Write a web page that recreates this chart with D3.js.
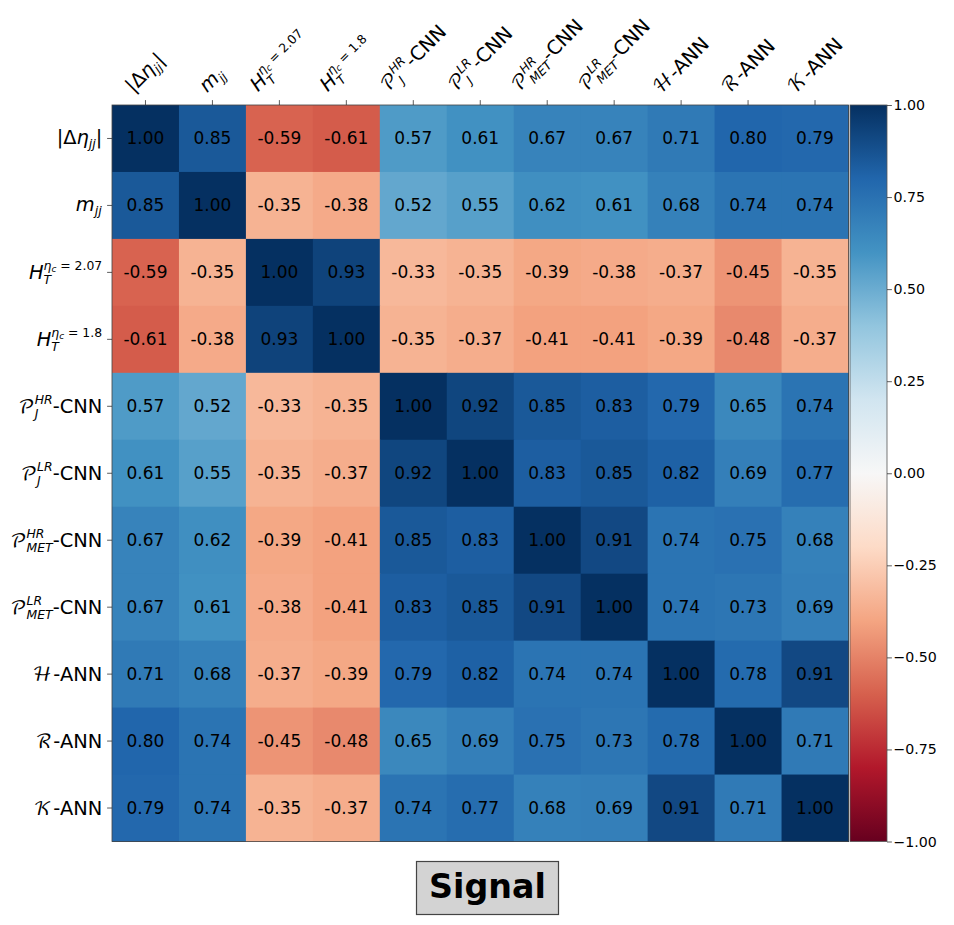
<!DOCTYPE html>
<html><head><meta charset="utf-8">
<script src="https://cdn.jsdelivr.net/npm/d3@7"></script>
<style>body{margin:0;background:#fff}svg{display:block}</style>
</head><body>
<script>
// ---- data ----
// label parts: [text, level(0 base,1 sup,-1 sub,2 sub-of-sup), italic, flag('st' = stack on script start), font('c' calligraphic)]
const labels = [
  [["|Δ",0,0],["η",0,1],["jj",-1,1],["|",0,0]],
  [["m",0,1],["jj",-1,1]],
  [["H",0,1],["T",-1,1],["η",1,1,"st"],["c",2,1],[" = 2.07",1,0]],
  [["H",0,1],["T",-1,1],["η",1,1,"st"],["c",2,1],[" = 1.8",1,0]],
  [["𝒫",0,0,null,"c"],["HR",1,1],["J",-1,1,"st"],["-CNN",0,0]],
  [["𝒫",0,0,null,"c"],["LR",1,1],["J",-1,1,"st"],["-CNN",0,0]],
  [["𝒫",0,0,null,"c"],["HR",1,1],["MET",-1,1,"st"],["-CNN",0,0]],
  [["𝒫",0,0,null,"c"],["LR",1,1],["MET",-1,1,"st"],["-CNN",0,0]],
  [["ℋ",0,0,null,"c"],["-ANN",0,0]],
  [["ℛ",0,0,null,"c"],["-ANN",0,0]],
  [["𝒦",0,0,null,"c"],["-ANN",0,0]]
];
const matrix = [
  [1.00, 0.85,-0.59,-0.61, 0.57, 0.61, 0.67, 0.67, 0.71, 0.80, 0.79],
  [0.85, 1.00,-0.35,-0.38, 0.52, 0.55, 0.62, 0.61, 0.68, 0.74, 0.74],
  [-0.59,-0.35,1.00, 0.93,-0.33,-0.35,-0.39,-0.38,-0.37,-0.45,-0.35],
  [-0.61,-0.38,0.93, 1.00,-0.35,-0.37,-0.41,-0.41,-0.39,-0.48,-0.37],
  [0.57, 0.52,-0.33,-0.35, 1.00, 0.92, 0.85, 0.83, 0.79, 0.65, 0.74],
  [0.61, 0.55,-0.35,-0.37, 0.92, 1.00, 0.83, 0.85, 0.82, 0.69, 0.77],
  [0.67, 0.62,-0.39,-0.41, 0.85, 0.83, 1.00, 0.91, 0.74, 0.75, 0.68],
  [0.67, 0.61,-0.38,-0.41, 0.83, 0.85, 0.91, 1.00, 0.74, 0.73, 0.69],
  [0.71, 0.68,-0.37,-0.39, 0.79, 0.82, 0.74, 0.74, 1.00, 0.78, 0.91],
  [0.80, 0.74,-0.45,-0.48, 0.65, 0.69, 0.75, 0.73, 0.78, 1.00, 0.71],
  [0.79, 0.74,-0.35,-0.37, 0.74, 0.77, 0.68, 0.69, 0.91, 0.71, 1.00]
];
const cbTicks = [1.00, 0.75, 0.50, 0.25, 0.00, -0.25, -0.50, -0.75, -1.00];
const rdbu = ["#67001f","#b2182b","#d6604d","#f4a582","#fddbc7","#f7f7f7","#d1e5f0","#92c5de","#4393c3","#2166ac","#053061"];
const titleText = "Signal";

// ---- layout ----
const W = 954, H = 925;
const leftX = 112, topY = 105, size = 736.5;
const cbX = 850, cbW = 37;
const FS = 19.4, AFS = 17, CFS = 14.2, SCR = 0.64;
const FONT = "'DejaVu Sans', sans-serif";
const CAL = "'DejaVu Math TeX Gyre','STIX Two Math','Noto Sans Math','DejaVu Serif',serif";

const svg = d3.select("body").append("svg").attr("width", W).attr("height", H);
const n = labels.length;
const idx = d3.range(n);
const xS = d3.scaleBand().domain(idx).range([leftX, leftX + size]);
const yS = d3.scaleBand().domain(idx).range([topY, topY + size]);
const color = d3.scaleLinear().domain(d3.range(11).map(i => -1 + i * 0.2)).range(rdbu).interpolate(d3.interpolateRgb).clamp(true);
const annot = v => v.toFixed(2);

// cells
const cells = svg.append("g");
matrix.forEach((row, r) => row.forEach((v, c) => {
  cells.append("rect").attr("x", xS(c)).attr("y", yS(r))
    .attr("width", xS.bandwidth() + 0.5).attr("height", yS.bandwidth() + 0.5)
    .attr("fill", color(v));
}));
matrix.forEach((row, r) => row.forEach((v, c) => {
  cells.append("text").attr("x", xS(c) + xS.bandwidth() / 2).attr("y", yS(r) + yS.bandwidth() / 2)
    .attr("text-anchor", "middle").attr("dominant-baseline", "central")
    .attr("font-family", FONT).attr("font-size", AFS).attr("fill", "#000")
    .text(annot(v));
}));
svg.append("rect").attr("x", leftX).attr("y", topY).attr("width", size).attr("height", size)
  .attr("fill", "none").attr("stroke", "#444").attr("stroke-width", 0.8);

// math label renderer
function drawMath(g, parts, fs) {
  let px = 0, scriptStart = 0, maxX = 0, prevLv = 0;
  const hasBoth = parts.some(p => p[1] === 1) && parts.some(p => p[1] === -1);
  parts.forEach((p, k) => {
    const [t, lv, it, flag, font] = p;
    if (lv !== 0 && prevLv === 0) { scriptStart = px; maxX = px; }
    if (lv === 0 && prevLv !== 0) { px = Math.max(px, maxX); }
    if (flag === "st") { maxX = Math.max(maxX, px); px = scriptStart; }
    let sz = fs, dy = 0;
    const supDy = hasBoth ? -0.47 * fs : -0.40 * fs;
    const subDy = hasBoth ? 0.26 * fs : 0.2 * fs;
    if (lv === 1) { sz = fs * SCR; dy = supDy; }
    else if (lv === -1) { sz = fs * SCR; dy = subDy; }
    else if (lv === 2) { sz = fs * SCR * 0.72; dy = supDy + 0.12 * fs; }
    const te = g.append("text").attr("x", px).attr("y", dy)
      .attr("font-family", font === "c" ? CAL : FONT)
      .attr("font-size", sz)
      .attr("font-style", it ? "italic" : "normal")
      .attr("fill", "#000")
      .style("white-space", "pre")
      .text(t);
    px += te.node().getComputedTextLength();
    const next = parts[k + 1];
    if (font === "c" && next && next[1] === 0) px += 0.08 * fs;
    if (lv !== 0) maxX = Math.max(maxX, px);
    prevLv = lv;
  });
}

// left tick labels
const yAxis = svg.append("g");
labels.forEach((parts, i) => {
  const cyy = yS(i) + yS.bandwidth() / 2;
  yAxis.append("line").attr("x1", leftX - 4.9).attr("x2", leftX).attr("y1", cyy).attr("y2", cyy)
    .attr("stroke", "#333").attr("stroke-width", 0.8);
  const outer = yAxis.append("g");
  const inner = outer.append("g");
  drawMath(inner, parts, FS);
  const b = inner.node().getBBox();
  outer.attr("transform", `translate(${leftX - 9.8 - (b.x + b.width)},${cyy - (b.y + b.height / 2)})`);
});

// top tick labels (rotated 45)
const xAxis = svg.append("g");
labels.forEach((parts, i) => {
  const cxx = xS(i) + xS.bandwidth() / 2;
  xAxis.append("line").attr("x1", cxx).attr("x2", cxx).attr("y1", topY - 4.9).attr("y2", topY)
    .attr("stroke", "#333").attr("stroke-width", 0.8);
  const outer = xAxis.append("g");
  const inner = outer.append("g");
  drawMath(inner, parts, FS);
  const b = inner.node().getBBox();
  const ext = (b.width + b.height) / (2 * Math.SQRT2);
  outer.attr("transform", `translate(${cxx},${topY - 7 - ext}) rotate(-45) translate(${-(b.x + b.width / 2)},${-(b.y + b.height / 2)})`);
});

// colorbar
const cbScale = d3.scaleLinear().domain([-1, 1]).range([topY + size, topY]);
const defs = svg.append("defs");
const grad = defs.append("linearGradient").attr("id", "cbg").attr("x1", 0).attr("y1", 1).attr("x2", 0).attr("y2", 0);
rdbu.forEach((c, i) => grad.append("stop").attr("offset", i / 10).attr("stop-color", c));
svg.append("rect").attr("x", cbX).attr("y", topY).attr("width", cbW).attr("height", size)
  .attr("fill", "url(#cbg)").attr("stroke", "#555").attr("stroke-width", 0.8);
const cbAxis = svg.append("g").attr("transform", `translate(${cbX + cbW},0)`)
  .call(d3.axisRight(cbScale).tickValues(cbTicks).tickSize(4.9).tickPadding(1.5)
    .tickFormat(d => (d < 0 ? "\u2212" : "") + Math.abs(d).toFixed(2)));
cbAxis.select(".domain").remove();
cbAxis.selectAll("line").attr("stroke", "#333").attr("stroke-width", 0.8);
cbAxis.selectAll("text").attr("font-family", FONT).attr("font-size", CFS).attr("fill", "#000");

// title box
const tg = svg.append("g");
tg.append("rect").attr("x", 416.5).attr("y", 861.5).attr("width", 142).attr("height", 53)
  .attr("fill", "#d3d3d3").attr("stroke", "#444").attr("stroke-width", 1.2);
tg.append("text").attr("x", 487.5).attr("y", 898).attr("text-anchor", "middle")
  .attr("font-family", FONT).attr("font-weight", "bold").attr("font-size", 33.3).attr("fill", "#000")
  .text(titleText);
</script>
</body></html>
